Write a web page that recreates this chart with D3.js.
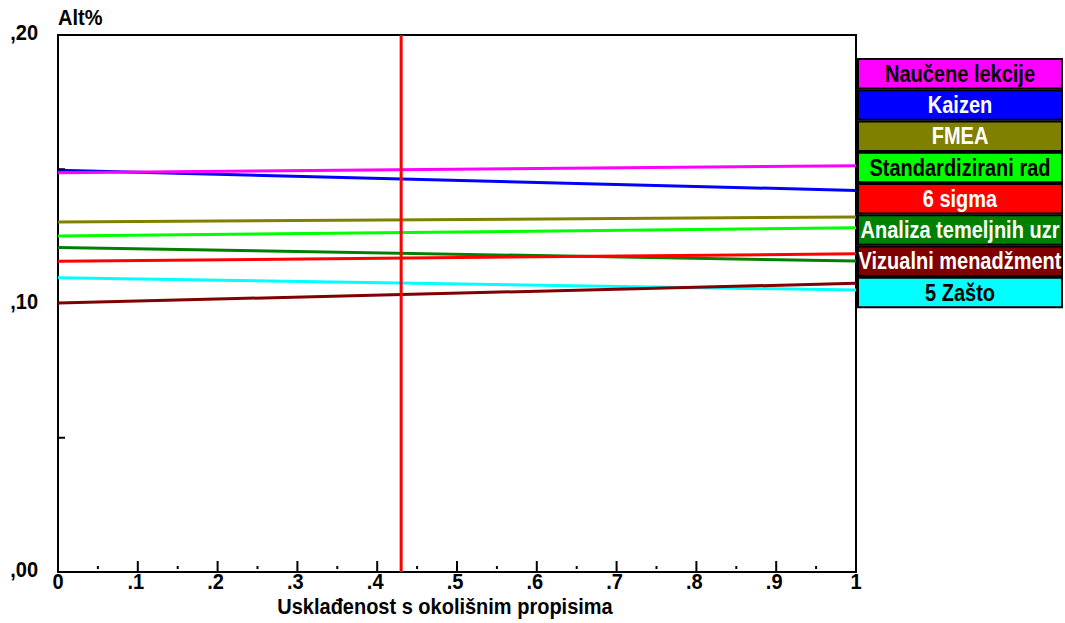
<!DOCTYPE html>
<html>
<head>
<meta charset="utf-8">
<script src="https://cdn.jsdelivr.net/npm/d3@7"></script>
<style>
  html, body { margin: 0; padding: 0; background: #fff; }
  svg { display: block; }
  text { font-family: "Liberation Sans", Arial, sans-serif; font-weight: bold; }
</style>
</head>
<body>
<svg id="chart" width="1065" height="623"></svg>
<script>
// ---- data ----
const seriesNames = ["Naučene lekcije", "Kaizen", "FMEA", "Standardizirani rad", "6 sigma", "Analiza temeljnih uzr", "Vizualni menadžment", "5 Zašto"];
const seriesColors = ["#ff00ff", "#0000ff", "#808000", "#00ff00", "#ff0000", "#008000", "#800000", "#00ffff"];
const labelColors = ["#000000", "#ffffff", "#ffffff", "#000000", "#ffffff", "#ffffff", "#ffffff", "#000000"];
const xPoints = [0, 1];
const valuesAtStart = [0.1487, 0.1496, 0.1304, 0.1251, 0.1157, 0.1209, 0.1002, 0.1096];
const valuesAtEnd = [0.1513, 0.1421, 0.1322, 0.1282, 0.1185, 0.1158, 0.1075, 0.1050];
const currentX = 0.43;
const xTickValues = [0, 0.1, 0.2, 0.3, 0.4, 0.5, 0.6, 0.7, 0.8, 0.9, 1];
const xTickLabels = ["0", ".1", ".2", ".3", ".4", ".5", ".6", ".7", ".8", ".9", "1"];
const xMinorTicks = [0.05, 0.15, 0.25, 0.35, 0.45, 0.55, 0.65, 0.75, 0.85, 0.95];
const yTickValues = [0, 0.1, 0.2];
const yTickLabels = [",00", ",10", ",20"];
const yMinorTicks = [0.05, 0.15];
const xTitle = "Usklađenost s okolišnim propisima";
const yTitle = "Alt%";

// ---- layout ----
const svg = d3.select("#chart");
const x = d3.scaleLinear().domain([0, 1]).range([58, 856]);
const y = d3.scaleLinear().domain([0, 0.2]).range([572, 35]);

// frame
svg.append("rect")
  .attr("x", x(0)).attr("y", y(0.2))
  .attr("width", x(1) - x(0)).attr("height", y(0) - y(0.2))
  .attr("fill", "none").attr("stroke", "#000").attr("stroke-width", 2);

// series lines (drawn in reverse so first legend item is on top)
const line = d3.line().x(d => x(d[0])).y(d => y(d[1]));
const seriesData = seriesNames.map((n, i) => ({
  name: n, color: seriesColors[i],
  pts: xPoints.map((xv, j) => [xv, j === 0 ? valuesAtStart[i] : valuesAtEnd[i]])
}));
svg.append("g").selectAll("path")
  .data(seriesData.slice().reverse())
  .join("path")
  .attr("d", d => line(d.pts))
  .attr("fill", "none")
  .attr("stroke", d => d.color)
  .attr("stroke-width", 3);

// current position marker
svg.append("line")
  .attr("x1", x(currentX)).attr("x2", x(currentX))
  .attr("y1", y(0.2)).attr("y2", y(0))
  .attr("stroke", "#ff0000").attr("stroke-width", 3);

// x axis ticks
svg.append("g").selectAll("line.maj")
  .data(xTickValues).join("line")
  .attr("x1", d => x(d)).attr("x2", d => x(d))
  .attr("y1", y(0) - 11).attr("y2", y(0))
  .attr("stroke", "#000").attr("stroke-width", 2);
svg.append("g").selectAll("line.min")
  .data(xMinorTicks).join("line")
  .attr("x1", d => x(d)).attr("x2", d => x(d))
  .attr("y1", y(0) - 6).attr("y2", y(0) - 3)
  .attr("stroke", "#000").attr("stroke-width", 2);
svg.append("g").selectAll("text")
  .data(xTickValues).join("text")
  .attr("transform", (d, i) => `translate(${x(d) - (xTickLabels[i].startsWith(".") ? 2 : 0)},589) scale(1,1.1)`)
  .attr("text-anchor", "middle")
  .attr("font-size", 20)
  .text((d, i) => xTickLabels[i]);

// y axis ticks
svg.append("g").selectAll("line")
  .data(yMinorTicks).join("line")
  .attr("x1", x(0)).attr("x2", x(0) + 7)
  .attr("y1", d => y(d)).attr("y2", d => y(d))
  .attr("stroke", "#000").attr("stroke-width", 2);
svg.append("g").selectAll("text")
  .data(yTickValues).join("text")
  .attr("transform", d => `translate(38,${y(d) + 5}) scale(1,1.1)`)
  .attr("text-anchor", "end")
  .attr("font-size", 20)
  .text((d, i) => yTickLabels[i]);

// titles
svg.append("text").attr("transform", "translate(58,25) scale(1,1.1)")
  .attr("font-size", 20).text(yTitle);
svg.append("text").attr("transform", "translate(445,614) scale(1,1.12)")
  .attr("text-anchor", "middle")
  .attr("font-size", 20).text(xTitle);

// legend
const legX = 858, legW = 204, legTop = 59, legPitch = 31.25, legH = 29.5;
svg.append("defs").append("clipPath").attr("id", "legclip")
  .append("rect").attr("x", legX - 2).attr("y", 0).attr("width", legW + 6).attr("height", 623);
const leg = svg.append("g").attr("clip-path", "url(#legclip)")
  .selectAll("g").data(seriesData).join("g")
  .attr("transform", (d, i) => `translate(${legX},${legTop + i * legPitch})`);
leg.append("rect")
  .attr("width", legW).attr("height", legH)
  .attr("fill", d => d.color).attr("stroke", "#000").attr("stroke-width", 2);
leg.append("text")
  .attr("transform", `translate(${legW / 2},${legH / 2 + 8}) scale(1,1.15)`)
  .attr("text-anchor", "middle")
  .attr("font-size", 20)
  .attr("fill", (d, i) => labelColors[i])
  .text(d => d.name);
</script>
</body>
</html>
